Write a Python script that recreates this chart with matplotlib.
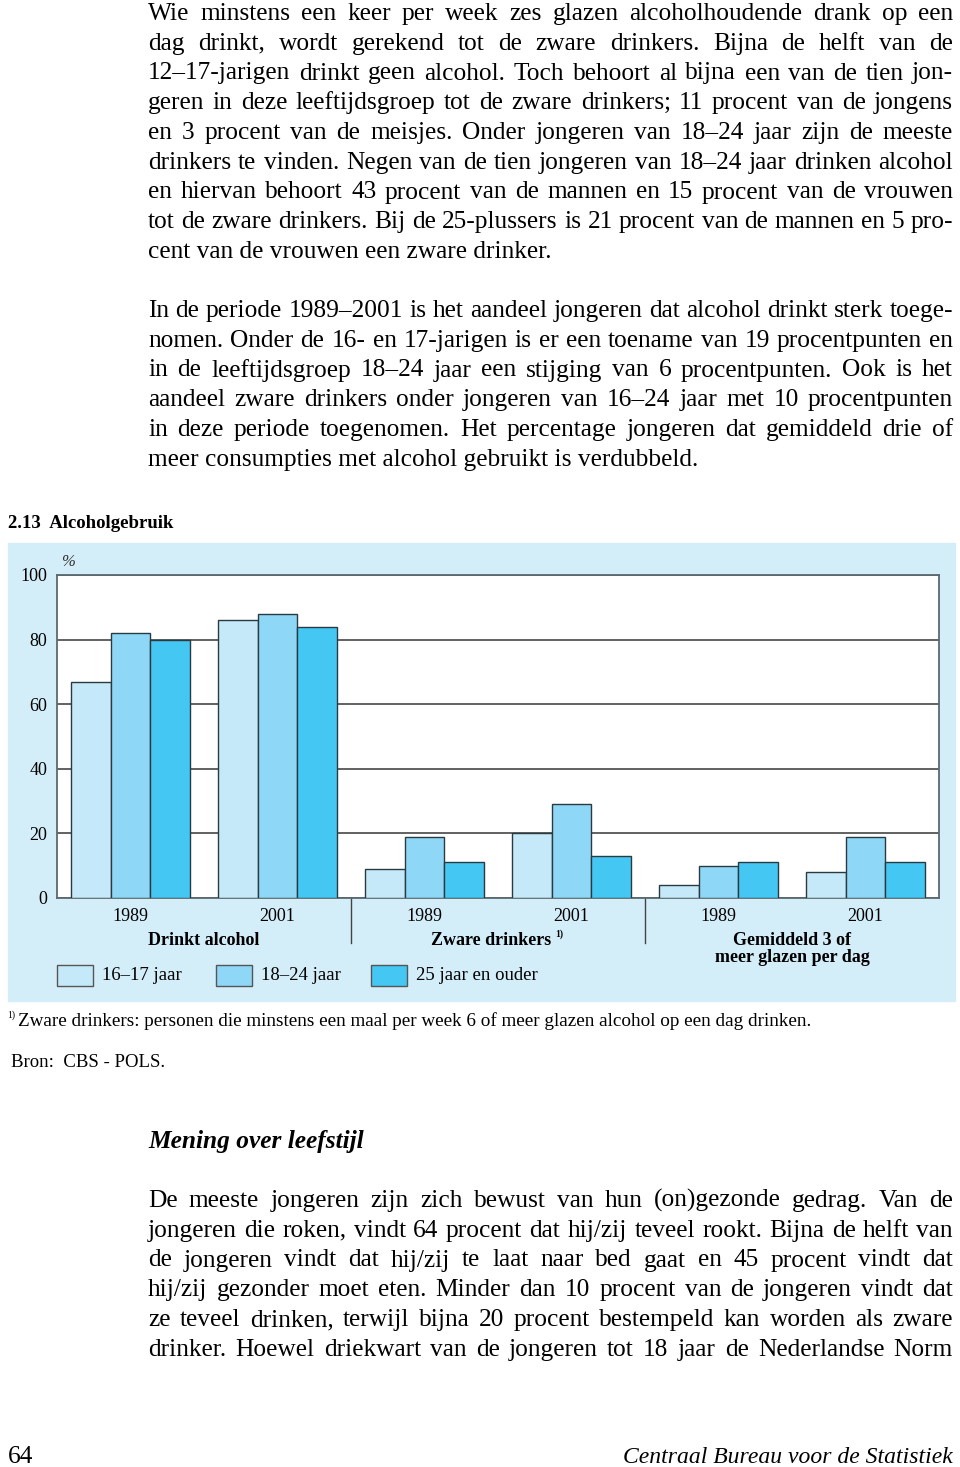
import numpy as np
import matplotlib.pyplot as plt
from matplotlib.patches import Rectangle

# data
years = ["1989", "2001", "1989", "2001", "1989", "2001"]
categories = ["Drinkt alcohol", "Zware drinkers", "Gemiddeld 3 of\nmeer glazen per dag"]
series = ["16–17 jaar", "18–24 jaar", "25 jaar en ouder"]
v_16_17 = [67, 86, 9, 20, 4, 8]
v_18_24 = [82, 88, 19, 29, 10, 19]
v_25plus = [80, 84, 11, 13, 11, 11]
yticks = [0, 20, 40, 60, 80, 100]

colors = ["#c6e9f9", "#8fd7f6", "#45c7f3"]
panel = "#d3eef9"
edge = "#2b3a40"

W, H = 960, 1467
fig = plt.figure(figsize=(W / 100, H / 100), dpi=100)
renderer = fig.canvas.get_renderer()

SERIF = "Liberation Serif"
BODY = 18.3
X0, X1 = 148, 953


def fx(x):
    return x / W


def fy(y):
    return 1 - y / H


def line(y, s, justify=True, x0=X0, **kw):
    kw.setdefault("fontsize", BODY)
    kw.setdefault("family", SERIF)
    if not justify:
        fig.text(fx(x0), fy(y), s, va="baseline", **kw)
        return
    words = s.split(" ")
    arts = [fig.text(0, fy(y), w, va="baseline", **kw) for w in words]
    widths = [a.get_window_extent(renderer).width for a in arts]
    gap = (X1 - x0 - sum(widths)) / (len(words) - 1)
    x = x0
    for a, w in zip(arts, widths):
        a.set_x(fx(x))
        x += w + gap


para1 = [
    "Wie minstens een keer per week zes glazen alcoholhoudende drank op een",
    "dag drinkt, wordt gerekend tot de zware drinkers. Bijna de helft van de",
    "12–17-jarigen drinkt geen alcohol. Toch behoort al bijna een van de tien jon-",
    "geren in deze leeftijdsgroep tot de zware drinkers; 11 procent van de jongens",
    "en 3 procent van de meisjes. Onder jongeren van 18–24 jaar zijn de meeste",
    "drinkers te vinden. Negen van de tien jongeren van 18–24 jaar drinken alcohol",
    "en hiervan behoort 43 procent van de mannen en 15 procent van de vrouwen",
    "tot de zware drinkers. Bij de 25-plussers is 21 procent van de mannen en 5 pro-",
    "cent van de vrouwen een zware drinker.",
]
para2 = [
    "In de periode 1989–2001 is het aandeel jongeren dat alcohol drinkt sterk toege-",
    "nomen. Onder de 16- en 17-jarigen is er een toename van 19 procentpunten en",
    "in de leeftijdsgroep 18–24 jaar een stijging van 6 procentpunten. Ook is het",
    "aandeel zware drinkers onder jongeren van 16–24 jaar met 10 procentpunten",
    "in deze periode toegenomen. Het percentage jongeren dat gemiddeld drie of",
    "meer consumpties met alcohol gebruikt is verdubbeld.",
]
para3 = [
    "De meeste jongeren zijn zich bewust van hun (on)gezonde gedrag. Van de",
    "jongeren die roken, vindt 64 procent dat hij/zij teveel rookt. Bijna de helft van",
    "de jongeren vindt dat hij/zij te laat naar bed gaat en 45 procent vindt dat",
    "hij/zij gezonder moet eten. Minder dan 10 procent van de jongeren vindt dat",
    "ze teveel drinken, terwijl bijna 20 procent bestempeld kan worden als zware",
    "drinker. Hoewel driekwart van de jongeren tot 18 jaar de Nederlandse Norm",
]

LS = 29.75
for i, s in enumerate(para1):
    line(20 + i * LS, s, justify=i < len(para1) - 1)
for i, s in enumerate(para2):
    line(317 + i * LS, s, justify=i < len(para2) - 1)
fig.text(fx(148), fy(1148), "Mening over leefstijl", family=SERIF, style="italic",
         fontweight="bold", fontsize=BODY, va="baseline")
for i, s in enumerate(para3):
    line(1207 + i * LS, s, justify=True)

fig.text(fx(8), fy(1463), "64", family=SERIF, fontsize=BODY, va="baseline")
fig.text(fx(953), fy(1463), "Centraal Bureau voor de Statistiek", family=SERIF,
         style="italic", fontsize=17, va="baseline", ha="right")

# chart title
fig.text(fx(8), fy(528), "2.13  Alcoholgebruik", family=SERIF, fontsize=13.5,
         fontweight="bold", va="baseline")

# background panel
fig.patches.append(Rectangle((fx(8), fy(1001)), fx(955 - 8), (1001 - 543) / H,
                             transform=fig.transFigure, color=panel, zorder=-5))

ax = fig.add_axes([fx(57), fy(898), fx(939 - 57), (898 - 575) / H])
ax.set_zorder(2)
ax.set_facecolor("white")
x = np.arange(len(years))
w = 0.272
for k, vals in enumerate([v_16_17, v_18_24, v_25plus]):
    ax.bar(x + (k - 1) * w, vals, w, color=colors[k], edgecolor=edge,
           linewidth=1.0, zorder=3)

ax.set_xlim(-0.5, 5.5)
ax.set_ylim(0, 100)
ax.set_yticks(yticks)
ax.set_yticklabels([str(t) for t in yticks], family=SERIF, fontsize=13)
ax.set_xticks(x)
ax.set_xticklabels(years, family=SERIF, fontsize=13)
ax.tick_params(length=0, pad=7)
ax.tick_params(axis="y", pad=7)
ax.grid(axis="y", color="#555555", linewidth=1.3, zorder=0)
for s in ax.spines.values():
    s.set_color("#5a6a70")
    s.set_linewidth(1.3)

ax.text(-0.47, 101.5, "%", family=SERIF, fontsize=12, color="#333333",
        style="italic", va="bottom")

# group separators and category labels
tr = ax.get_xaxis_transform()
for xs in [1.5, 3.5]:
    ax.plot([xs, xs], [0, -0.14], color="#444444", linewidth=1, transform=tr,
            clip_on=False)

cat_x = [0.5, 2.45, 4.5]
for cx, c in zip(cat_x, categories):
    t = ax.text(cx, -0.105, c, transform=tr, ha="center", va="top", family=SERIF,
                fontsize=13, fontweight="bold", linespacing=1.0)
    if c == "Zware drinkers":
        bb = t.get_window_extent(renderer)
        fig.text((bb.x1 + 4) / W, (bb.y1 - 7) / H, "1)", family=SERIF,
                 fontsize=7, fontweight="bold", va="bottom", zorder=5)

# legend
leg_x = [57, 216, 371]
for lx, c, lab in zip(leg_x, colors, series):
    fig.patches.append(Rectangle((fx(lx), fy(986)), fx(36), 21 / H,
                                 transform=fig.transFigure, facecolor=c,
                                 edgecolor="#555555", linewidth=1, zorder=2))
    fig.text(fx(lx + 45), fy(976), lab, family=SERIF, fontsize=13.5, va="center")

# footnote and source
fig.text(fx(7), fy(1018), "1)", family=SERIF, fontsize=7, va="baseline")
fig.text(fx(18), fy(1026),
         "Zware drinkers: personen die minstens een maal per week 6 of meer glazen alcohol op een dag drinken.",
         family=SERIF, fontsize=13.8, va="baseline")
fig.text(fx(11), fy(1067), "Bron:  CBS - POLS.", family=SERIF, fontsize=13.5,
         va="baseline")

fig.savefig("out.png", dpi=100)
